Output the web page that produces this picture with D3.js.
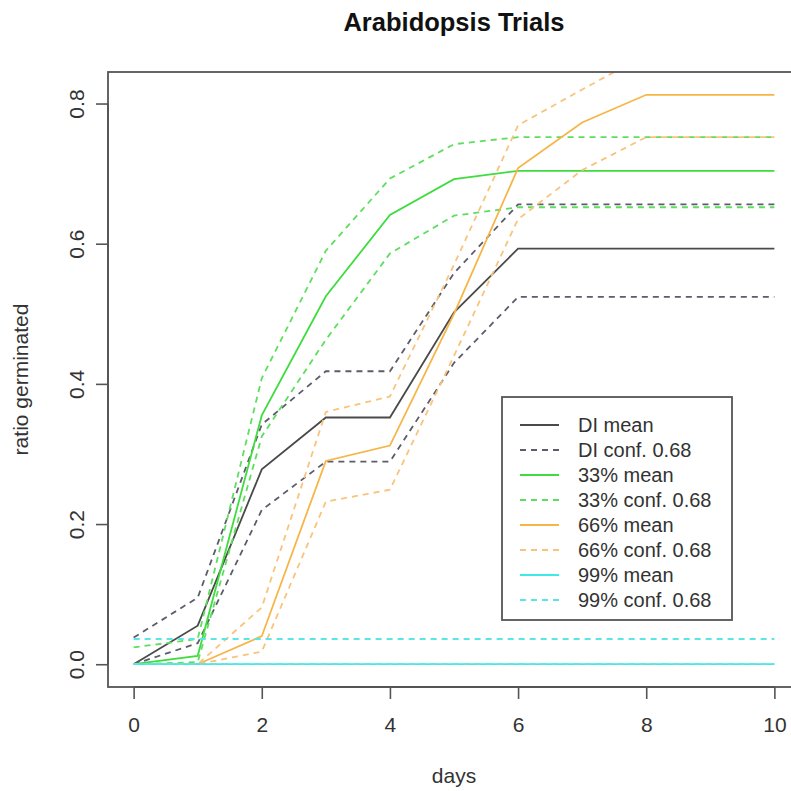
<!DOCTYPE html>
<html>
<head>
<meta charset="utf-8">
<script src="https://cdn.jsdelivr.net/npm/d3@7"></script>
<style>
  html, body { margin: 0; padding: 0; background: #fff; }
  text { font-family: "Liberation Sans", Arial, sans-serif; }
</style>
</head>
<body>
<svg id="chart" width="791" height="791"></svg>
<script>
// ---- data ----
const days = [0, 1, 2, 3, 4, 5, 6, 7, 8, 9, 10];
const diMean   = [0, 0.055, 0.278, 0.352, 0.352, 0.502, 0.593, 0.593, 0.593, 0.593, 0.593];
const diUpper  = [0.038, 0.095, 0.342, 0.418, 0.418, 0.558, 0.656, 0.656, 0.656, 0.656, 0.656];
const diLower  = [0, 0.030, 0.220, 0.289, 0.289, 0.430, 0.524, 0.524, 0.524, 0.524, 0.524];
const g33Mean  = [0, 0.012, 0.355, 0.525, 0.641, 0.692, 0.704, 0.704, 0.704, 0.704, 0.704];
const g33Upper = [0.024, 0.036, 0.408, 0.590, 0.693, 0.742, 0.752, 0.752, 0.752, 0.752, 0.752];
const g33Lower = [0, 0.003, 0.325, 0.463, 0.586, 0.640, 0.652, 0.652, 0.652, 0.652, 0.652];
const g66Mean  = [0, 0, 0.040, 0.290, 0.312, 0.500, 0.708, 0.773, 0.8125, 0.8125, 0.8125];
const g66Upper = [0, 0, 0.081, 0.360, 0.382, 0.570, 0.769, 0.820, 0.870, 0.870, 0.870];
const g66Lower = [0, 0, 0.018, 0.232, 0.249, 0.440, 0.635, 0.705, 0.752, 0.752, 0.752];
const g99Mean  = [0, 0, 0, 0, 0, 0, 0, 0, 0, 0, 0];
const g99Upper = [0.036, 0.036, 0.036, 0.036, 0.036, 0.036, 0.036, 0.036, 0.036, 0.036, 0.036];
const g99Lower = [0, 0, 0, 0, 0, 0, 0, 0, 0, 0, 0];
const xTicks = [0, 2, 4, 6, 8, 10];
const yTicks = [0.0, 0.2, 0.4, 0.6, 0.8];
const legendLabels = ["DI mean", "DI conf. 0.68", "33% mean", "33% conf. 0.68",
                      "66% mean", "66% conf. 0.68", "99% mean", "99% conf. 0.68"];

// ---- styles ----
const groups = [
  { mean: diMean,  upper: diUpper,  lower: diLower,  cSolid: "#4a4a4a", cDash: "#5c5c6c" },
  { mean: g33Mean, upper: g33Upper, lower: g33Lower, cSolid: "#3fdc3f", cDash: "#5ede5e" },
  { mean: g66Mean, upper: g66Upper, lower: g66Lower, cSolid: "#f7b547", cDash: "#f8c47c" },
  { mean: g99Mean, upper: g99Upper, lower: g99Lower, cSolid: "#3ceaea", cDash: "#5ae6e6" }
];
const dash = "6,5";

const svg = d3.select("#chart");
const plot = { left: 108, top: 72, right: 800, bottom: 687 };

// R-style 4% extended ranges
const xMin = 0, xMax = 10, yMin = 0, yMax = 0.8125;
const xr = (xMax - xMin) * 0.04, yr = (yMax - yMin) * 0.04;
const x = d3.scaleLinear().domain([xMin - xr, xMax + xr]).range([plot.left, plot.right]);
const y = d3.scaleLinear().domain([yMin - yr, yMax + yr]).range([plot.bottom, plot.top]);

svg.append("defs").append("clipPath").attr("id", "clip")
  .append("rect").attr("x", plot.left).attr("y", plot.top)
  .attr("width", plot.right - plot.left).attr("height", plot.bottom - plot.top);

const line = d3.line().x((d, i) => x(days[i])).y(d => y(d));
const g = svg.append("g").attr("clip-path", "url(#clip)");

groups.forEach(gr => {
  g.append("path").datum(gr.mean).attr("d", line)
    .attr("fill", "none").attr("stroke", gr.cSolid).attr("stroke-width", 1.8);
  [gr.upper, gr.lower].forEach(s => {
    g.append("path").datum(s).attr("d", line)
      .attr("fill", "none").attr("stroke", gr.cDash).attr("stroke-width", 1.8)
      .attr("stroke-dasharray", dash);
  });
});

// frame
svg.append("rect").attr("x", plot.left).attr("y", plot.top)
  .attr("width", plot.right - plot.left).attr("height", plot.bottom - plot.top)
  .attr("fill", "none").attr("stroke", "#555").attr("stroke-width", 1.8);

// x axis
const xAxis = d3.axisBottom(x).tickValues(xTicks).tickSize(12).tickPadding(18)
  .tickFormat(d3.format("d"));
const xg = svg.append("g").attr("transform", `translate(0,${plot.bottom})`).call(xAxis);
xg.select(".domain").attr("d", `M${x(0)},0H${x(10)}`).attr("stroke", "#555").attr("stroke-width", 1.8);
xg.selectAll(".tick line").attr("stroke", "#555").attr("stroke-width", 1.6);
xg.selectAll(".tick text").attr("font-size", 21).attr("fill", "#333")
  .attr("font-family", "'Liberation Sans', Arial, sans-serif");

// y axis
const yAxis = d3.axisLeft(y).tickValues(yTicks).tickSize(12).tickFormat(d3.format(".1f"));
const yg = svg.append("g").attr("transform", `translate(${plot.left},0)`).call(yAxis);
yg.select(".domain").attr("d", `M0,${y(0)}V${y(0.8)}`).attr("stroke", "#555").attr("stroke-width", 1.8);
yg.selectAll(".tick line").attr("stroke", "#555").attr("stroke-width", 1.6);
yg.selectAll(".tick text")
  .attr("font-size", 21).attr("fill", "#333")
  .attr("font-family", "'Liberation Sans', Arial, sans-serif")
  .attr("x", null).attr("dy", null)
  .attr("text-anchor", "middle")
  .attr("transform", "translate(-31,0) rotate(-90)")
  .attr("dy", "0.35em");

// title and labels
svg.append("text").attr("x", (plot.left + plot.right) / 2).attr("y", 31)
  .attr("text-anchor", "middle").attr("font-size", 25.5).attr("font-weight", "bold")
  .attr("fill", "#111").text("Arabidopsis Trials");
svg.append("text").attr("x", (plot.left + plot.right) / 2).attr("y", 783)
  .attr("text-anchor", "middle").attr("font-size", 21).attr("fill", "#333").text("days");
svg.append("text").attr("transform", `translate(28,${(plot.top + plot.bottom) / 2}) rotate(-90)`)
  .attr("text-anchor", "middle").attr("font-size", 21).attr("fill", "#333").text("ratio germinated");

// legend
const lg = svg.append("g");
lg.append("rect").attr("x", 502).attr("y", 397).attr("width", 230).attr("height", 223)
  .attr("fill", "#fff").attr("stroke", "#555").attr("stroke-width", 1.8);
legendLabels.forEach((lab, i) => {
  const gr = groups[Math.floor(i / 2)];
  const isDash = i % 2 === 1;
  const yy = 425 + i * 25;
  lg.append("line").attr("x1", 520).attr("x2", 559).attr("y1", yy).attr("y2", yy)
    .attr("stroke", isDash ? gr.cDash : gr.cSolid).attr("stroke-width", 1.8)
    .attr("stroke-dasharray", isDash ? dash : null);
  lg.append("text").attr("x", 578).attr("y", yy).attr("dy", "0.35em")
    .attr("font-size", 20).attr("fill", "#333").text(lab);
});
</script>
</body>
</html>
